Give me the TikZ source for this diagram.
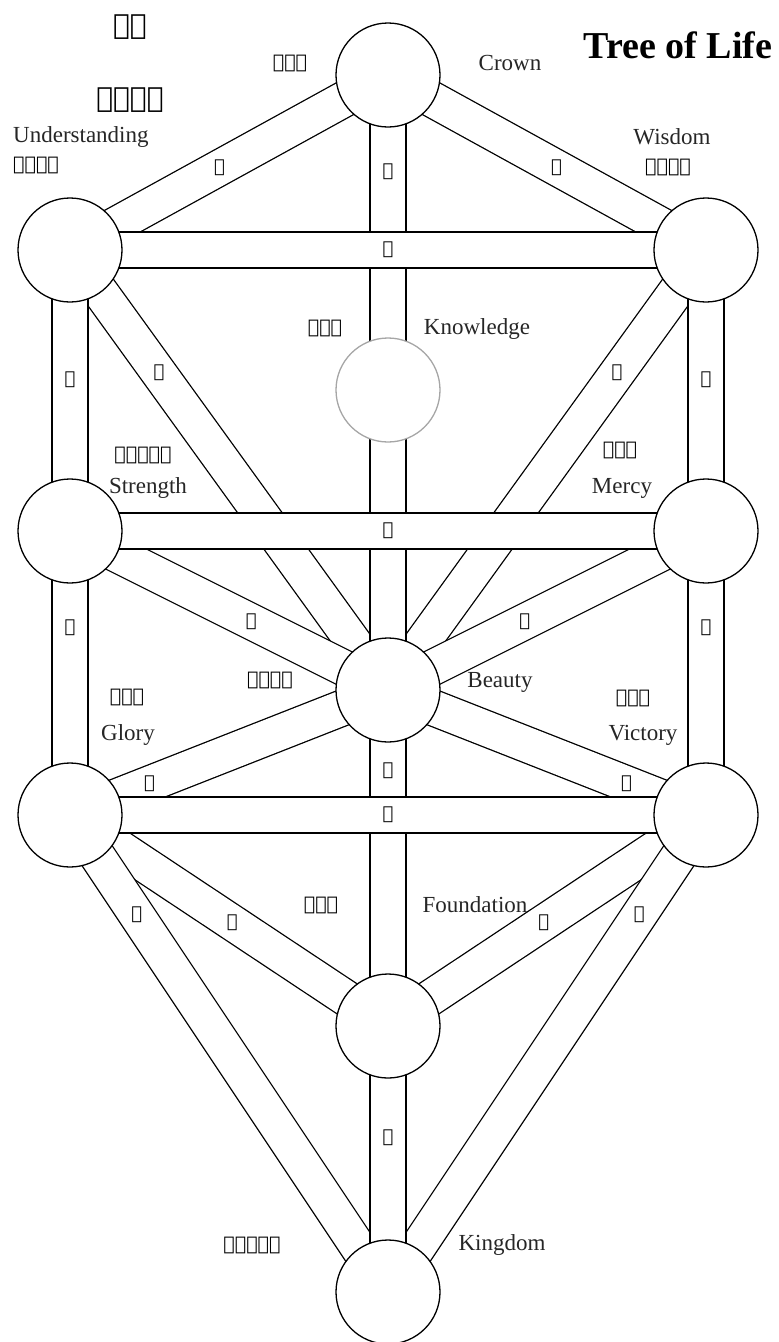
\documentclass[tikz,border=0pt]{standalone}
\usepackage{fontspec}
\setmainfont{Liberation Serif}
\newfontfamily\phx{DejaVu Sans}
\usetikzlibrary{calc}
\pgfdeclarelayer{bg}
\pgfsetlayers{bg,main}
\tikzset{
  sef/.style={circle, draw=black, line width=1.3pt, fill=white, minimum size=104pt, inner sep=0pt},
  daat/.style={sef, draw=black!35},
  chan/.style={draw=black, line width=1.3pt, double=white, double distance=34.7pt},
  plab/.style={font=\phx\fontsize{18}{18}\selectfont, inner sep=0pt},
  nm/.style={font=\fontsize{23}{23}\selectfont, inner sep=0pt, text=black!85},
  hb/.style={font=\phx\fontsize{19}{19}\selectfont, inner sep=0pt},
  ttl/.style={font=\phx\fontsize{28}{28}\selectfont, inner sep=0pt},
}
\begin{document}
\begin{tikzpicture}[x=1pt,y=-1pt]
\useasboundingbox (0,0) rectangle (779,1342);
% sefirot
\node[sef] (keter) at (388,75) {};
\node[sef] (binah) at (70,250) {};
\node[sef] (chokmah) at (706,250) {};
\node[daat] (daat) at (388,390) {};
\node[sef] (gevurah) at (70,531) {};
\node[sef] (chesed) at (706,531) {};
\node[sef] (tiferet) at (388,690) {};
\node[sef] (hod) at (70,815) {};
\node[sef] (netzach) at (706,815) {};
\node[sef] (yesod) at (388,1026) {};
\node[sef] (malkuth) at (388,1292) {};
% paths
\begin{pgfonlayer}{bg}
\draw[chan] (keter.center) -- (binah.center);
\draw[chan] (keter.center) -- (chokmah.center);
\draw[chan] (chokmah.center) -- (tiferet.center);
\draw[chan] (binah.center) -- (tiferet.center);
\draw[chan] (chesed.center) -- (tiferet.center);
\draw[chan] (gevurah.center) -- (tiferet.center);
\draw[chan] (tiferet.center) -- (netzach.center);
\draw[chan] (tiferet.center) -- (hod.center);
\draw[chan] (netzach.center) -- (yesod.center);
\draw[chan] (hod.center) -- (yesod.center);
\draw[chan] (netzach.center) -- (malkuth.center);
\draw[chan] (hod.center) -- (malkuth.center);
\draw[chan] (keter.center) -- (tiferet.center);
\draw[chan] (tiferet.center) -- (yesod.center);
\draw[chan] (yesod.center) -- (malkuth.center);
\draw[chan] (binah.center) -- (gevurah.center);
\draw[chan] (gevurah.center) -- (hod.center);
\draw[chan] (chokmah.center) -- (chesed.center);
\draw[chan] (chesed.center) -- (netzach.center);
\draw[chan] (binah.center) -- (chokmah.center);
\draw[chan] (gevurah.center) -- (chesed.center);
\draw[chan] (hod.center) -- (netzach.center);
\end{pgfonlayer}
% path letters
\path (keter.center) -- node[plab,pos=.53] (la) {𐤀} (chokmah.center);
\path (keter.center) -- node[plab,pos=.53] (lb) {𐤁} (binah.center);
\path (keter.center) -- node[plab,pos=.158] (lg) {𐤂} (tiferet.center);
\path (binah.center) -- node[plab,pos=.5] (ld) {𐤃} (chokmah.center);
\path (chokmah.center) -- node[plab,pos=.28] (lh) {𐤄} (tiferet.center);
\path (chokmah.center) -- node[plab,pos=.46] (lw) {𐤅} (chesed.center);
\path (binah.center) -- node[plab,pos=.28] (lz) {𐤆} (tiferet.center);
\path (binah.center) -- node[plab,pos=.46] (lch) {𐤇} (gevurah.center);
\path (gevurah.center) -- node[plab,pos=.5] (lt) {𐤈} (chesed.center);
\path (chesed.center) -- node[plab,pos=.57] (ly) {𐤉} (tiferet.center);
\path (chesed.center) -- node[plab,pos=.34] (lk) {𐤊} (netzach.center);
\path (gevurah.center) -- node[plab,pos=.57] (ll) {𐤋} (tiferet.center);
\path (gevurah.center) -- node[plab,pos=.34] (lm) {𐤌} (hod.center);
\path (tiferet.center) -- node[plab,pos=.75] (ln) {𐤍} (netzach.center);
\path (tiferet.center) -- node[plab,pos=.24] (ls) {𐤎} (yesod.center);
\path (tiferet.center) -- node[plab,pos=.75] (lay) {𐤏} (hod.center);
\path (hod.center) -- node[plab,pos=.5] (lp) {𐤐} (netzach.center);
\path (netzach.center) -- node[plab,pos=.51] (lts) {𐤑} (yesod.center);
\path (netzach.center) -- node[plab,pos=.21] (lq) {𐤒} (malkuth.center);
\path (hod.center) -- node[plab,pos=.51] (lr) {𐤓} (yesod.center);
\path (hod.center) -- node[plab,pos=.21] (lsh) {𐤔} (malkuth.center);
\path (yesod.center) -- node[plab,pos=.42] (ltw) {𐤕} (malkuth.center);
% titles
\node[ttl] (t1) at (130,27) {𐤏𐤑};
\node[ttl] (t2) at (130,100) {𐤇𐤉𐤉𐤌};
\node[font=\bfseries\fontsize{38}{38}\selectfont, inner sep=0pt] (title) at (678,45) {Tree of Life};
% names
\node[hb] (hk) at (290,63) {𐤊𐤕𐤓};
\node[nm] (nk) at (510,63) {Crown};
\node[nm, anchor=west] (nb) at (13,137) {Understanding};
\node[hb, anchor=west] (hbn) at (13,165) {𐤁𐤉𐤍𐤄};
\node[nm] (nc) at (672,137) {Wisdom};
\node[hb] (hc) at (668,167) {𐤇𐤊𐤌𐤄};
\node[hb] (hd) at (325,328) {𐤃𐤏𐤕};
\node[nm] (nd) at (477,329) {Knowledge};
\node[hb] (hg) at (143,455) {𐤂𐤁𐤅𐤓𐤄};
\node[nm] (ng) at (148,488) {Strength};
\node[hb] (hch) at (620,450) {𐤇𐤎𐤃};
\node[nm] (nch) at (622,488) {Mercy};
\node[hb] (ht) at (270,680) {𐤕𐤐𐤓𐤕};
\node[nm] (nt) at (500,682) {Beauty};
\node[hb] (hh) at (127,697) {𐤄𐤅𐤃};
\node[nm] (nh) at (128,735) {Glory};
\node[hb] (hn) at (633,698) {𐤍𐤑𐤇};
\node[nm] (nn) at (643,735) {Victory};
\node[hb] (hy) at (321,905) {𐤉𐤎𐤃};
\node[nm] (ny) at (475,905) {Foundation};
\node[hb] (hm) at (252,1245) {𐤌𐤋𐤊𐤅𐤕};
\node[nm] (nm) at (502,1245) {Kingdom};
\end{tikzpicture}
\end{document}
